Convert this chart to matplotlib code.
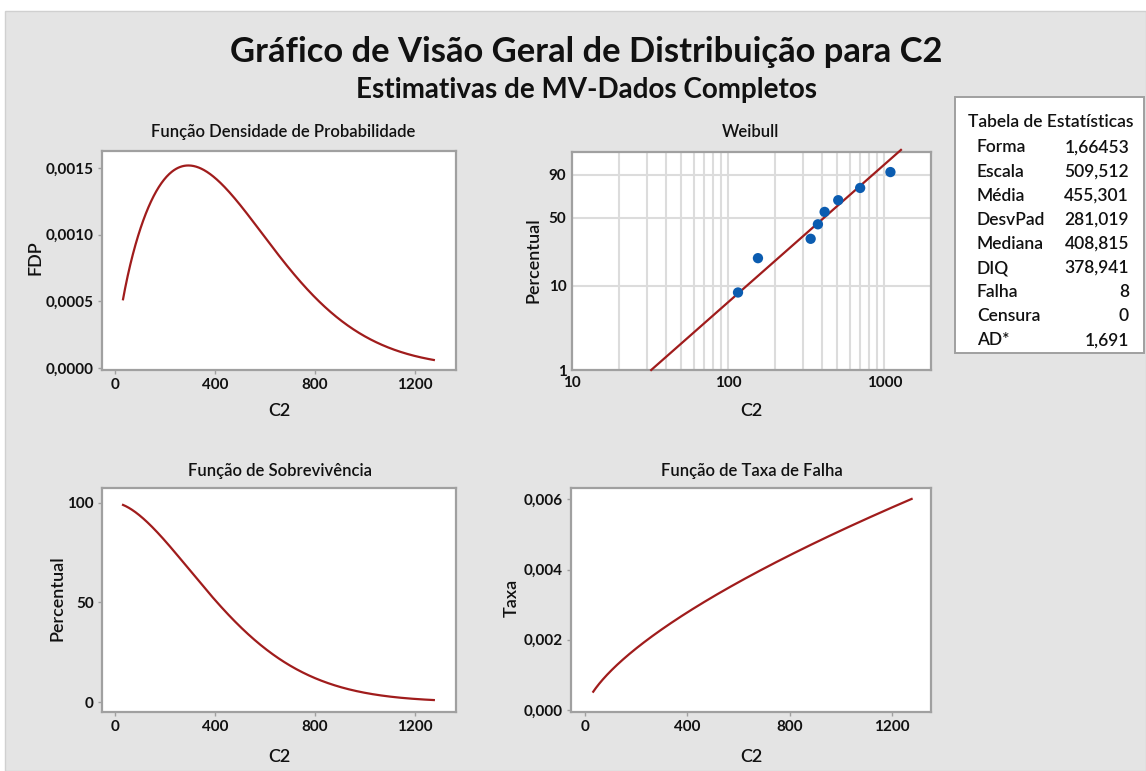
import numpy as np
import matplotlib
matplotlib.use("Agg")
import matplotlib.pyplot as plt
from matplotlib.patches import Rectangle
from matplotlib.ticker import FixedLocator, FixedFormatter, NullLocator

# Weibull fit (maximum likelihood, complete data) for C2
shape = 1.66453
scale = 509.512

# Observed failure times and their plotting positions (percent)
failure_times = [115.5, 155.0, 337.0, 375.0, 414.0, 506.0, 699.0, 1092.0]
plot_percent = [8.33, 20.24, 32.14, 44.05, 55.95, 67.86, 79.76, 91.67]

# Statistics table
stat_names = ["Forma", "Escala", "Média", "DesvPad", "Mediana", "DIQ", "Falha", "Censura", "AD*"]
stat_values = ["1,66453", "509,512", "455,301", "281,019", "408,815", "378,941", "8", "0", "1,691"]

# Tick values / labels
lin_xticks = [0, 400, 800, 1200]
lin_xlabels = ["0", "400", "800", "1200"]
pdf_yticks = [0.0, 0.0005, 0.0010, 0.0015]
pdf_ylabels = ["0,0000", "0,0005", "0,0010", "0,0015"]
surv_yticks = [0, 50, 100]
surv_ylabels = ["0", "50", "100"]
haz_yticks = [0.0, 0.002, 0.004, 0.006]
haz_ylabels = ["0,000", "0,002", "0,004", "0,006"]
wb_xticks = [10, 100, 1000]
wb_xlabels = ["10", "100", "1000"]
wb_yticks = [1, 10, 50, 90]
wb_ylabels = ["1", "10", "50", "90"]
wb_xgrid = [20, 30, 40, 50, 60, 70, 80, 90, 100, 200, 300, 400, 500, 600, 700, 800, 900, 1000]

plt.rcParams["font.family"] = ["Lato", "DejaVu Sans"]

W, H = 1146, 771
fig = plt.figure(figsize=(W / 100, H / 100), dpi=100)
fig.patch.set_facecolor("white")

LINE = "#a01c1c"
DOT = "#0b5cb0"
FRAME = "#a0a0a0"
GRID = "#dcdcdc"
TXT = "#111111"

# grey panel background
fig.patches.append(Rectangle((5 / W, 0), 1 - 5 / W, 1 - 11 / H, transform=fig.transFigure,
                             facecolor="#e4e4e4", edgecolor="#d0d0d0", lw=1, zorder=-10))


def px_axes(l, t, r, b):
    return fig.add_axes([l / W, 1 - b / H, (r - l) / W, (b - t) / H])


def ftext(x, y, s, **kw):
    kw.setdefault("color", TXT)
    kw.setdefault("fontweight", "semibold")
    return fig.text(x / W, 1 - y / H, s, **kw)


def style(ax):
    ax.set_facecolor("white")
    for sp in ax.spines.values():
        sp.set_color(FRAME)
        sp.set_linewidth(1.6)
    ax.tick_params(colors=FRAME, length=3, width=1, labelcolor=TXT, labelsize=11, pad=3)
    for lab in ax.get_xticklabels() + ax.get_yticklabels():
        lab.set_fontweight("bold")


def set_ticks(ax, xt, xl, yt, yl):
    ax.xaxis.set_major_locator(FixedLocator(xt))
    ax.xaxis.set_major_formatter(FixedFormatter(xl))
    ax.yaxis.set_major_locator(FixedLocator(yt))
    ax.yaxis.set_major_formatter(FixedFormatter(yl))
    ax.xaxis.set_minor_locator(NullLocator())
    ax.yaxis.set_minor_locator(NullLocator())


# Weibull curves over the 1% .. 99% range of the fitted distribution
x_lo = scale * (-np.log(0.99)) ** (1 / shape)
x_hi = scale * (-np.log(0.01)) ** (1 / shape)
xs = np.linspace(x_lo, x_hi, 600)
z = (xs / scale) ** shape
pdf = (shape / scale) * (xs / scale) ** (shape - 1) * np.exp(-z)
surv = 100 * np.exp(-z)
hazard = (shape / scale) * (xs / scale) ** (shape - 1)
cdf_pct = 100 * (1 - np.exp(-z))

# Titles
ftext(586, 52, "Gráfico de Visão Geral de Distribuição para C2", ha="center", va="center",
      fontsize=24.8, fontweight="bold")
ftext(587, 90, "Estimativas de MV-Dados Completos", ha="center", va="center",
      fontsize=20, fontweight="bold")

# --- PDF ---
ax1 = px_axes(102, 151, 456, 370)
ax1.plot(xs, pdf, color=LINE, lw=1.6)
ax1.set_xlim(-52, 1364)
ax1.set_ylim(-1.5e-5, 0.0016275)
set_ticks(ax1, lin_xticks, lin_xlabels, pdf_yticks, pdf_ylabels)
style(ax1)
ftext(283, 132, "Função Densidade de Probabilidade", ha="center", va="center", fontsize=12)
ftext(279, 411, "C2", ha="center", va="center", fontsize=13)
ftext(35, 258, "FDP", ha="center", va="center", fontsize=13, rotation=90)

# --- Weibull probability plot ---
def wb_fwd(p):
    p = np.clip(np.asarray(p, dtype=float), 1e-6, 100 - 1e-6)
    return np.log(-np.log(1 - p / 100))


def wb_inv(v):
    return 100 * (1 - np.exp(-np.exp(v)))


ax2 = px_axes(572, 151.5, 931, 370)
ax2.set_xscale("log")
ax2.set_yscale("function", functions=(wb_fwd, wb_inv))
ax2.set_xlim(10, 1986)
ax2.set_ylim(1, wb_inv(1.483))
for g in wb_xgrid:
    ax2.axvline(g, color=GRID, lw=1.5, zorder=0)
for g in wb_yticks[1:]:
    ax2.axhline(g, color=GRID, lw=1.5, zorder=0)
ax2.plot(xs, cdf_pct, color=LINE, lw=1.6, clip_on=False, zorder=3)
ax2.scatter(failure_times, plot_percent, s=55, color=DOT, zorder=4, edgecolors="none")
set_ticks(ax2, wb_xticks, wb_xlabels, wb_yticks, wb_ylabels)
style(ax2)
ax2.tick_params(length=0, pad=4)
ftext(751, 132, "Weibull", ha="center", va="center", fontsize=12)
ftext(751, 411, "C2", ha="center", va="center", fontsize=13)
ftext(533, 260, "Percentual", ha="center", va="center", fontsize=13, rotation=90)

# --- Survival ---
ax3 = px_axes(102, 488, 456, 712)
ax3.plot(xs, surv, color=LINE, lw=1.6)
ax3.set_xlim(-52, 1364)
ax3.set_ylim(-5.0, 107.5)
set_ticks(ax3, lin_xticks, lin_xlabels, surv_yticks, surv_ylabels)
style(ax3)
ftext(280, 471, "Função de Sobrevivência", ha="center", va="center", fontsize=12)
ftext(279, 757, "C2", ha="center", va="center", fontsize=13)
ftext(58, 598, "Percentual", ha="center", va="center", fontsize=13, rotation=90)

# --- Hazard ---
ax4 = px_axes(571, 488, 931, 712)
ax4.plot(xs, hazard, color=LINE, lw=1.6)
ax4.set_xlim(-54.7, 1351)
ax4.set_ylim(-5.7e-5, 0.006322)
set_ticks(ax4, lin_xticks, lin_xlabels, haz_yticks, haz_ylabels)
style(ax4)
ftext(752, 471, "Função de Taxa de Falha", ha="center", va="center", fontsize=12)
ftext(751, 757, "C2", ha="center", va="center", fontsize=13)
ftext(512, 598, "Taxa", ha="center", va="center", fontsize=13, rotation=90)

# --- Statistics table ---
fig.patches.append(Rectangle((955 / W, 1 - 353 / H), (1144 - 955) / W, (353 - 97) / H,
                             transform=fig.transFigure, facecolor="white",
                             edgecolor=FRAME, lw=1.4, zorder=1))
ftext(968, 122, "Tabela de Estatísticas", ha="left", va="center", fontsize=12.5, zorder=2)
for i, (name, val) in enumerate(zip(stat_names, stat_values)):
    y = 147.5 + i * 24.1
    ftext(977, y, name, ha="left", va="center", fontsize=12.5, zorder=2)
    ftext(1129, y, val, ha="right", va="center", fontsize=12.5, zorder=2)

fig.savefig("out.png", dpi=100, facecolor=fig.get_facecolor())
